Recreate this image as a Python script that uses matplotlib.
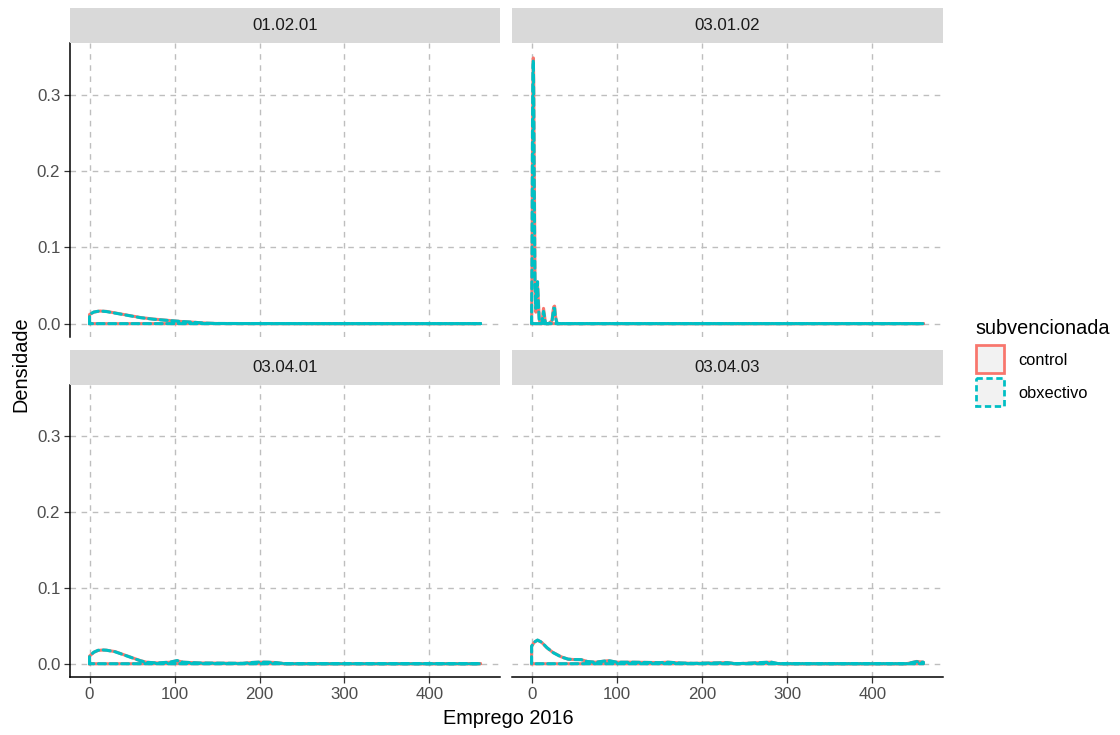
import matplotlib
matplotlib.use("Agg")
import matplotlib.pyplot as plt
from matplotlib.patches import Rectangle

plt.rcParams['font.family'] = ['Liberation Sans', 'DejaVu Sans']

# ---------------- data ----------------
panels = ["01.02.01", "03.01.02", "03.04.01", "03.04.03"]
groups = ["control", "obxectivo"]

# 01.02.01
x_p1_control = [0, 5, 12, 20, 30, 40, 50, 60, 75, 90, 105, 120, 137, 150, 200, 300, 400, 460]
y_p1_control = [0.012, 0.015, 0.0165, 0.016, 0.014, 0.012, 0.010, 0.008, 0.006, 0.0045, 0.003, 0.002, 0.0007, 0.0002, 0.0001, 0.0, 0.0, 0.0]
x_p1_obx = [0, 5, 12, 20, 30, 40, 50, 60, 75, 90, 105, 120, 137, 150, 200, 300, 400, 460]
y_p1_obx = [0.012, 0.0152, 0.0166, 0.0158, 0.0138, 0.0118, 0.0098, 0.0078, 0.0058, 0.0044, 0.0031, 0.002, 0.0006, 0.0002, 0.0001, 0.0, 0.0, 0.0]

# 03.01.02
x_p2_control = [0, 0.5, 1, 1.5, 2, 2.5, 3, 3.5, 4, 5, 6, 7, 8, 9, 10, 12, 13, 14, 15, 16, 17, 20, 24, 25, 26, 27, 28, 30, 35, 100, 460]
y_p2_control = [0.0, 0.08, 0.22, 0.31, 0.348, 0.32, 0.22, 0.15, 0.06, 0.015, 0.035, 0.05, 0.03, 0.006, 0.0, 0.0, 0.01, 0.02, 0.012, 0.003, 0.0, 0.0, 0.004, 0.015, 0.022, 0.023, 0.01, 0.0, 0.0, 0.0, 0.0]
x_p2_obx = [0, 0.5, 1, 1.5, 2, 2.5, 3, 3.5, 4, 5, 6, 7, 8, 9, 10, 12, 13, 14, 15, 16, 17, 20, 24, 25, 26, 27, 28, 30, 35, 100, 460]
y_p2_obx = [0.0, 0.09, 0.25, 0.33, 0.345, 0.30, 0.20, 0.12, 0.05, 0.02, 0.045, 0.055, 0.025, 0.004, 0.0, 0.0, 0.008, 0.016, 0.01, 0.002, 0.0, 0.0, 0.003, 0.012, 0.02, 0.02, 0.008, 0.0, 0.0, 0.0, 0.0]

# 03.04.01
x_p3_control = [0, 5, 10, 15, 20, 30, 40, 50, 60, 67, 80, 95, 103, 110, 130, 180, 190, 200, 210, 220, 230, 300, 460]
y_p3_control = [0.010, 0.015, 0.0175, 0.018, 0.0178, 0.016, 0.012, 0.008, 0.004, 0.002, 0.001, 0.002, 0.004, 0.002, 0.001, 0.0005, 0.0015, 0.002, 0.002, 0.0015, 0.0, 0.0, 0.0]
x_p3_obx = [0, 5, 10, 15, 20, 30, 40, 50, 60, 67, 80, 95, 103, 110, 130, 180, 190, 200, 210, 220, 230, 300, 460]
y_p3_obx = [0.010, 0.0152, 0.0177, 0.0182, 0.0178, 0.0158, 0.0118, 0.0078, 0.0038, 0.0019, 0.001, 0.0022, 0.0042, 0.002, 0.001, 0.0005, 0.0016, 0.0022, 0.002, 0.0014, 0.0, 0.0, 0.0]

# 03.04.03
x_p4_control = [0, 3, 7, 12, 18, 25, 35, 43, 50, 58, 65, 75, 90, 100, 120, 150, 160, 175, 190, 230, 240, 281, 290, 350, 440, 452, 460]
y_p4_control = [0.023, 0.028, 0.031, 0.028, 0.021, 0.015, 0.009, 0.006, 0.0055, 0.0055, 0.003, 0.002, 0.004, 0.002, 0.002, 0.0015, 0.002, 0.001, 0.0005, 0.0015, 0.0, 0.002, 0.0, 0.0, 0.0, 0.003, 0.002]
x_p4_obx = [0, 3, 7, 12, 18, 25, 35, 43, 50, 58, 65, 75, 90, 100, 120, 150, 160, 175, 190, 230, 240, 281, 290, 350, 440, 452, 460]
y_p4_obx = [0.023, 0.0285, 0.0312, 0.0282, 0.0212, 0.0148, 0.0088, 0.006, 0.0055, 0.0054, 0.003, 0.002, 0.0042, 0.002, 0.002, 0.0014, 0.002, 0.001, 0.0005, 0.0014, 0.0, 0.0022, 0.0, 0.0, 0.0, 0.0028, 0.002]

data = {
    "01.02.01": [(x_p1_control, y_p1_control), (x_p1_obx, y_p1_obx)],
    "03.01.02": [(x_p2_control, y_p2_control), (x_p2_obx, y_p2_obx)],
    "03.04.01": [(x_p3_control, y_p3_control), (x_p3_obx, y_p3_obx)],
    "03.04.03": [(x_p4_control, y_p4_control), (x_p4_obx, y_p4_obx)],
}

x_ticks = [0, 100, 200, 300, 400]
y_ticks = [0.0, 0.1, 0.2, 0.3]
y_tick_labels = ["0.0", "0.1", "0.2", "0.3"]

colors = {"control": "#F8766D", "obxectivo": "#00BFC4"}
styles = {"control": "-", "obxectivo": (0, (2.3, 1.5))}

# ---------------- figure ----------------
W, H = 1120, 735
fig = plt.figure(figsize=(W / 100, H / 100), dpi=100)

def fx(px):
    return px / W

def fy(py):
    return 1 - py / H

panel_boxes = {
    "01.02.01": (70, 500, 43, 337, 8),
    "03.01.02": (512, 943, 43, 337, 8),
    "03.04.01": (70, 500, 385, 677, 350),
    "03.04.03": (512, 943, 385, 677, 350),
}

xlim = (-23, 483)
ylim = (-0.0175, 0.3675)
LW = 2.2
TICK_FS = 12.2
TITLE_FS = 14.3

for i, name in enumerate(panels):
    x0, x1, y0, y1, s0 = panel_boxes[name]
    ax = fig.add_axes([fx(x0), fy(y1), fx(x1 - x0), (y1 - y0) / H])
    ax.set_xlim(*xlim)
    ax.set_ylim(*ylim)
    ax.set_xticks(x_ticks)
    ax.set_yticks(y_ticks)
    ax.grid(True, color="#BEBEBE", linestyle=(0, (4, 4)), linewidth=1.0)
    ax.set_axisbelow(True)
    for sp in ["top", "right"]:
        ax.spines[sp].set_visible(False)
    left = i % 2 == 0
    bottom = i >= 2
    ax.spines["left"].set_visible(left)
    ax.spines["bottom"].set_visible(bottom)
    for sp in ["left", "bottom"]:
        ax.spines[sp].set_color("black")
        ax.spines[sp].set_linewidth(1.1)
    ax.tick_params(axis="both", colors="#333333", labelcolor="#4D4D4D",
                   labelsize=TICK_FS, length=4, width=0.9, pad=3)
    if left:
        ax.set_yticklabels(y_tick_labels)
    else:
        ax.tick_params(axis="y", left=False, labelleft=False)
    if bottom:
        ax.set_xticklabels([str(t) for t in x_ticks])
    else:
        ax.tick_params(axis="x", bottom=False, labelbottom=False)

    for g, (xs, ys) in zip(groups, data[name]):
        px = [xs[0]] + list(xs) + [xs[-1], xs[0]]
        py = [0.0] + list(ys) + [0.0, 0.0]
        ax.plot(px, py, color=colors[g], linestyle=styles[g], linewidth=LW,
                solid_joinstyle="round", dash_capstyle="round",
                dash_joinstyle="round",
                zorder=3 if g == "control" else 4, clip_on=False)

    # strip
    sax = fig.add_axes([fx(x0), fy(s0 + 35), fx(x1 - x0), 35 / H])
    sax.set_facecolor("#D9D9D9")
    sax.set_xticks([])
    sax.set_yticks([])
    for sp in sax.spines.values():
        sp.set_visible(False)
    sax.text(0.5, 0.5, name, ha="center", va="center", fontsize=TICK_FS,
             color="#1A1A1A", transform=sax.transAxes)

# overlay axes in pixel coordinates for titles and legend
ov = fig.add_axes([0, 0, 1, 1], facecolor="none")
ov.set_xlim(0, W)
ov.set_ylim(H, 0)
ov.axis("off")

ov.text(21, 364, "Densidade", rotation=90, ha="center", va="center",
        fontsize=TITLE_FS, color="black")
ov.text(508, 724, "Emprego 2016", ha="center", va="baseline",
        fontsize=TITLE_FS, color="black")

# legend
ov.text(975, 328, "subvencionada", ha="left", va="center", fontsize=TITLE_FS, color="black")
key_y = {"control": 345, "obxectivo": 378}
for g in groups:
    ov.add_patch(Rectangle((976, key_y[g]), 28, 28, facecolor="#F2F2F2",
                           edgecolor=colors[g], linewidth=LW * 0.9,
                           linestyle="-" if g == "control" else (0, (2.3, 1.3))))
    ov.text(1018, key_y[g] + 15, g, ha="left", va="center", fontsize=11.8, color="black")

fig.savefig("out.png", dpi=100)
